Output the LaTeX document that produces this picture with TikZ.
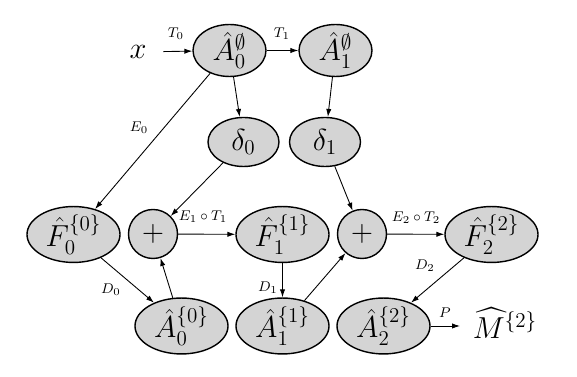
\documentclass[tikz,border=0pt]{standalone}
\usepackage{amssymb}
\usepackage{amsmath}
\usetikzlibrary{shapes.geometric,arrows.meta,positioning,calc}

\begin{document}
\begin{tikzpicture}[font=\LARGE,
  blob/.style={ellipse,draw=black,line width=0.8pt,fill=black!17,inner sep=0pt,minimum width=1.86cm,minimum height=0.94cm},
  topblob/.style={blob,minimum width=1.46cm},
  deltablob/.style={blob,minimum width=1.42cm,minimum height=0.98cm},
  sumblob/.style={circle,draw=black,line width=0.8pt,fill=black!17,inner sep=0pt,minimum size=0.98cm},
  lab/.style={font=\footnotesize},
  >={Latex[length=4.5pt,width=3pt]}, line width=0.5pt]
\useasboundingbox (0,0) rectangle (11.54,7.54);
% top row
\node[inner sep=0.33cm] (x) at (2.76,6.50) {$x$};
\node[topblob] (A0e) at (4.59,6.53) {$\hat{A}_0^{\emptyset}$};
\node[topblob] (A1e) at (6.71,6.53) {$\hat{A}_1^{\emptyset}$};
\node[deltablob] (d0) at (4.87,4.70) {$\delta_0$};
\node[deltablob] (d1) at (6.50,4.70) {$\delta_1$};
% middle row
\node[blob] (F0) at (1.47,2.85) {$\hat{F}_0^{\{0\}}$};
\node[sumblob] (p0) at (3.06,2.86) {$+$};
\node[blob] (F1) at (5.65,2.85) {$\hat{F}_1^{\{1\}}$};
\node[sumblob] (p1) at (7.24,2.86) {$+$};
\node[blob] (F2) at (9.83,2.85) {$\hat{F}_2^{\{2\}}$};
% bottom row
\node[blob] (B0) at (3.63,1.02) {$\hat{A}_0^{\{0\}}$};
\node[blob] (B1) at (5.65,1.02) {$\hat{A}_1^{\{1\}}$};
\node[blob] (B2) at (7.67,1.02) {$\hat{A}_2^{\{2\}}$};
\coordinate (Pend) at (9.20,1.02);
\node (M) at (10.10,1.08) {$\widehat{M}^{\{2\}}$};
% connectors
\draw[->] (x) -- (A0e);
\draw[->] (A0e) -- (A1e);
\draw[->] (A0e) -- (d0);
\draw[->] (A1e) -- (d1);
\draw[->] (A0e) -- (F0);
\draw[->] (d0) -- (p0);
\draw[->] (d1) -- (p1);
\draw[->] (F0) -- (B0);
\draw[->] (B0) -- (p0);
\draw[->] (p0) -- (F1);
\draw[->] (F1) -- (B1);
\draw[->] (B1) -- (p1);
\draw[->] (p1) -- (F2);
\draw[->] (F2) -- (B2);
\draw[->] (B2) -- (Pend);
% edge labels
\node[lab] at (3.52,6.86) {$T_0$};
\node[lab] at (5.64,6.86) {$T_1$};
\node[lab] at (2.78,4.98) {$E_0$};
\node[lab] at (2.22,1.74) {$D_0$};
\node[lab] at (4.06,3.20) {$E_1\circ T_1$};
\node[lab] at (5.36,1.78) {$D_1$};
\node[lab] at (8.32,3.18) {$E_2\circ T_2$};
\node[lab] at (8.50,2.22) {$D_2$};
\node[lab] at (8.90,1.28) {$P$};
\end{tikzpicture}
\end{document}
